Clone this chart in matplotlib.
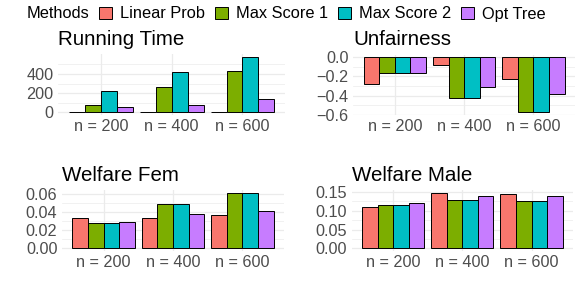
import matplotlib
matplotlib.use("Agg")
import matplotlib.pyplot as plt
import numpy as np
from matplotlib.patches import Patch

plt.rcParams['font.family'] = ['Liberation Sans', 'DejaVu Sans']

categories = ["n = 200", "n = 400", "n = 600"]
methods = ["Linear Prob", "Max Score 1", "Max Score 2", "Opt Tree"]
colors = ["#F8766D", "#7CAE00", "#00BFC4", "#C77CFF"]

running_time = {
    "Linear Prob": [1, 2, 3],
    "Max Score 1": [70, 263, 432],
    "Max Score 2": [225, 421, 579],
    "Opt Tree": [49, 74, 133],
}
unfairness = {
    "Linear Prob": [-0.279, -0.084, -0.230],
    "Max Score 1": [-0.160, -0.430, -0.576],
    "Max Score 2": [-0.160, -0.430, -0.576],
    "Opt Tree": [-0.168, -0.314, -0.387],
}
welfare_fem = {
    "Linear Prob": [0.0333, 0.0337, 0.0367],
    "Max Score 1": [0.0285, 0.0489, 0.0619],
    "Max Score 2": [0.0285, 0.0489, 0.0619],
    "Opt Tree": [0.0293, 0.0385, 0.0415],
}
welfare_male = {
    "Linear Prob": [0.110, 0.148, 0.1455],
    "Max Score 1": [0.115, 0.1295, 0.125],
    "Max Score 2": [0.115, 0.1295, 0.125],
    "Opt Tree": [0.1216, 0.138, 0.138],
}

panels = [
    ("Running Time", running_time, [0, 200, 400], ["0", "200", "400"], [100, 300, 500]),
    ("Unfairness", unfairness, [0, -0.2, -0.4, -0.6], ["0.0", "\u22120.2", "\u22120.4", "\u22120.6"], [-0.1, -0.3, -0.5]),
    ("Welfare Fem", welfare_fem, [0, 0.02, 0.04, 0.06], ["0.00", "0.02", "0.04", "0.06"], [0.01, 0.03, 0.05]),
    ("Welfare Male", welfare_male, [0, 0.05, 0.10, 0.15], ["0.00", "0.05", "0.10", "0.15"], [0.025, 0.075, 0.125]),
]

W, H = 579, 297
# axes boxes in pixels: left, top, right, bottom
boxes = [
    (58.3, 54.2, 285.0, 114.8),
    (353.3, 54.5, 575.0, 115.1),
    (62.0, 189.8, 284.0, 251.0),
    (351.7, 189.9, 573.0, 251.1),
]

fig = plt.figure(figsize=(W / 100, H / 100), dpi=100)
grid_col = "#EBEBEB"
text_col = "#4D4D4D"

for (title, data, ticks, labels, minor), (l, t, r, b) in zip(panels, boxes):
    ax = fig.add_axes([l / W, 1 - b / H, (r - l) / W, (b - t) / H])
    x = np.arange(len(categories))
    bw = 0.225
    allv = []
    for i, m in enumerate(methods):
        vals = data[m]
        allv += vals
        ax.bar(x + (i - 1.5) * bw, vals, width=bw, color=colors[i],
               edgecolor="black", linewidth=0.7, zorder=3)
    lo = min(0, min(allv))
    hi = max(0, max(allv))
    span = hi - lo
    ax.set_ylim(lo - 0.05 * span, hi + 0.05 * span)
    ax.set_xlim(-0.6, len(categories) - 0.4)
    ax.set_yticks(ticks)
    ax.set_yticklabels(labels)
    ax.set_yticks(minor, minor=True)
    ax.set_xticks(x)
    ax.set_xticklabels(categories)
    ax.grid(True, which="major", color=grid_col, linewidth=0.9, zorder=0)
    ax.grid(True, which="minor", axis="y", color=grid_col, linewidth=0.5, zorder=0)
    ax.set_axisbelow(True)
    for s in ax.spines.values():
        s.set_visible(False)
    ax.tick_params(which="both", length=0, labelsize=11.7, labelcolor=text_col)
    ax.tick_params(axis="y", pad=3.3)
    ax.tick_params(axis="x", pad=3.0)
    ax.set_title(title, loc="left", fontsize=14.8, pad=6.5, color="black")

fig.text(27 / W, 1 - 14 / H, "Methods", fontsize=11.8, va="center", ha="left")
handles = [Patch(facecolor=c, edgecolor="black", linewidth=0.7) for c in colors]
fig.legend(handles, methods, loc="center left", bbox_to_anchor=(99 / W, 1 - 14 / H),
           ncol=4, frameon=False, fontsize=11.8, handlelength=0.8, handleheight=0.8,
           handletextpad=0.49, columnspacing=0.6, borderaxespad=0, borderpad=0)

fig.savefig("out.png", dpi=100)
